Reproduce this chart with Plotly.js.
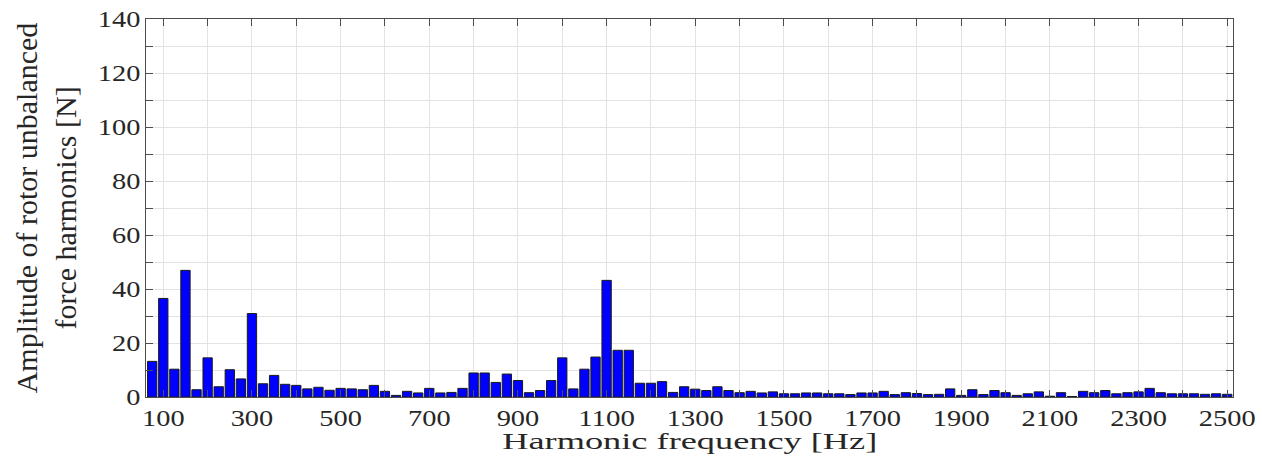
<!DOCTYPE html>
<html>
<head>
<meta charset="utf-8">
<script src="https://cdn.plot.ly/plotly-3.0.1.min.js"></script>
<style>
  html, body { margin: 0; padding: 0; background: #ffffff; }
  #chart { width: 1262px; height: 468px; }
</style>
</head>
<body>
<div id="chart"></div>
<script>
// Harmonic frequencies [Hz]
const frequencies = [
  75, 100, 125, 150, 175, 200, 225, 250, 275, 300,
  325, 350, 375, 400, 425, 450, 475, 500, 525, 550,
  575, 600, 625, 650, 675, 700, 725, 750, 775, 800,
  825, 850, 875, 900, 925, 950, 975, 1000, 1025, 1050,
  1075, 1100, 1125, 1150, 1175, 1200, 1225, 1250, 1275, 1300,
  1325, 1350, 1375, 1400, 1425, 1450, 1475, 1500, 1525, 1550,
  1575, 1600, 1625, 1650, 1675, 1700, 1725, 1750, 1775, 1800,
  1825, 1850, 1875, 1900, 1925, 1950, 1975, 2000, 2025, 2050,
  2075, 2100, 2125, 2150, 2175, 2200, 2225, 2250, 2275, 2300,
  2325, 2350, 2375, 2400, 2425, 2450, 2475, 2500
];

// Amplitude of rotor unbalanced force harmonics [N]
const amplitudes = [
  13.2, 36.5, 10.3, 46.9, 2.7, 14.5, 3.8, 10.1, 6.7, 30.9,
  4.9, 8.0, 4.7, 4.3, 3.0, 3.6, 2.5, 3.2, 3.0, 2.7,
  4.3, 2.1, 0.6, 2.1, 1.5, 3.2, 1.5, 1.7, 3.2, 8.9,
  8.9, 5.4, 8.5, 6.1, 1.6, 2.4, 6.1, 14.5, 3.0, 10.3,
  14.8, 43.2, 17.3, 17.3, 5.1, 5.1, 5.7, 1.7, 3.8, 2.9,
  2.4, 3.8, 2.4, 1.6, 2.1, 1.5, 1.9, 1.2, 1.2, 1.5,
  1.5, 1.2, 1.2, 0.9, 1.5, 1.5, 2.1, 0.9, 1.6, 1.3,
  0.9, 1.0, 3.0, 0.6, 2.7, 0.9, 2.4, 1.6, 0.6, 1.2,
  1.9, 0.3, 1.6, 0.2, 2.1, 1.6, 2.4, 1.2, 1.6, 1.9,
  3.2, 1.6, 1.2, 1.2, 1.2, 1.0, 1.2, 1.0
];

// Tick positions and labels
const xTickVals = [100, 200, 300, 400, 500, 600, 700, 800, 900, 1000, 1100, 1200, 1300,
  1400, 1500, 1600, 1700, 1800, 1900, 2000, 2100, 2200, 2300, 2400, 2500];
const xTickText = ['100', '', '300', '', '500', '', '700', '', '900', '', '1100', '', '1300',
  '', '1500', '', '1700', '', '1900', '', '2100', '', '2300', '', '2500'];
const yTickVals = [0, 10, 20, 30, 40, 50, 60, 70, 80, 90, 100, 110, 120, 130, 140];
const yTickText = ['0', '', '20', '', '40', '', '60', '', '80', '', '100', '', '120', '', '140'];

const xTitle = 'Harmonic frequency [Hz]';
const yTitle = 'Amplitude of rotor unbalanced<br>force harmonics [N]';

const serif = 'Liberation Serif';
const textColor = '#262626';
const frameColor = '#4d4d4d';

const trace = {
  type: 'bar',
  x: frequencies,
  y: amplitudes,
  marker: { color: '#0000ff', line: { color: '#1a1a1a', width: 1 } },
  hoverinfo: 'x+y'
};

const axisCommon = {
  tickmode: 'array',
  ticks: 'inside',
  ticklen: 7,
  tickcolor: frameColor,
  tickwidth: 1,
  showline: true,
  linecolor: frameColor,
  linewidth: 1,
  mirror: 'ticks',
  showgrid: true,
  gridcolor: '#e3e3e3',
  gridwidth: 1,
  zeroline: false,
  tickfont: { family: serif, size: 23, color: textColor }
};

const layout = {
  width: 1262,
  height: 468,
  margin: { l: 146, r: 29, t: 19, b: 71 },
  paper_bgcolor: '#ffffff',
  plot_bgcolor: '#ffffff',
  showlegend: false,
  bargap: 0.16,
  font: { family: serif, color: textColor, size: 23 },
  xaxis: Object.assign({}, axisCommon, {
    range: [61, 2513],
    tickvals: xTickVals,
    ticktext: xTickText
  }),
  yaxis: Object.assign({}, axisCommon, {
    range: [0, 140],
    tickvals: yTickVals,
    ticktext: yTickText,
    title: { text: yTitle, font: { family: serif, size: 30, color: textColor }, standoff: 20 }
  }),
  annotations: [{
    text: xTitle,
    xref: 'paper', yref: 'paper',
    x: 0.5, y: -0.117,
    xanchor: 'center', yanchor: 'middle',
    showarrow: false,
    font: { family: serif, size: 23, color: textColor }
  }]
};

// Widen text horizontally, as in the reference picture
function widen(el, width) {
  el.setAttribute('textLength', String(width));
  el.setAttribute('lengthAdjust', 'spacingAndGlyphs');
}

Plotly.newPlot('chart', [trace], layout, { displayModeBar: false, staticPlot: true }).then(function (gd) {
  const xt = gd.querySelector('.annotation-text');
  if (xt) widen(xt, 375);
  gd.querySelectorAll('.xtick text, .ytick text').forEach(function (t) {
    const s = t.textContent.trim();
    if (s.length) widen(t, s.length * 14.2);
  });
});
</script>
</body>
</html>
